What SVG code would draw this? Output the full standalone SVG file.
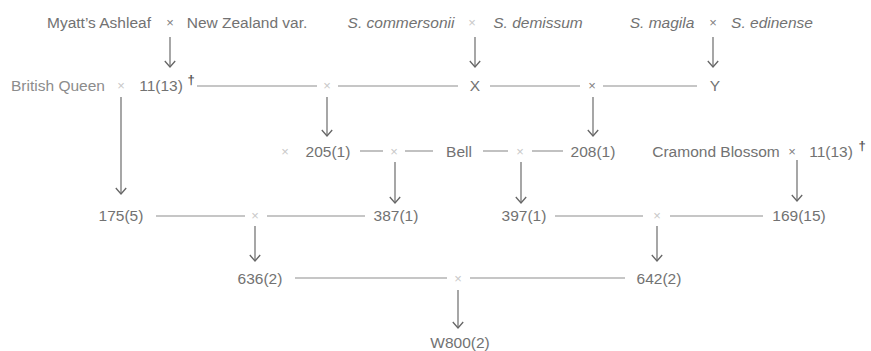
<svg xmlns="http://www.w3.org/2000/svg" width="871" height="351" viewBox="0 0 871 351">
  <defs>
    <style>
      .t { font-family: "Liberation Sans", Arial, sans-serif; font-size: 15.5px; fill: #727272; text-anchor: middle; }
      .i { font-style: italic; }
      .x { font-family: "Liberation Sans", Arial, sans-serif; font-size: 13px; fill: #808080; text-anchor: middle; }
      .fx { fill: #c8c8c8; }
      .dg { font-family: "Liberation Sans", Arial, sans-serif; font-size: 13px; font-weight: bold; fill: #555; text-anchor: middle; }
      .ln { stroke: #8e8e8e; stroke-width: 1.1; fill: none; }
      .ar { stroke: #777; stroke-width: 1.3; fill: none; marker-end: url(#v); }
    </style>
    <!-- open "V" arrowhead, drawn along +x so orient="auto" turns it with the line -->
    <marker id="v" viewBox="0 0 8 12" refX="7" refY="6" markerWidth="8" markerHeight="12" markerUnits="userSpaceOnUse" orient="auto">
      <path d="M1,0.8 L7,6 L1,11.2" fill="none" stroke="#666" stroke-width="1.3"/>
    </marker>
  </defs>
  <rect width="871" height="351" fill="#fff"/>

  <!-- parental crosses -->
  <g id="cross-myatt">
    <text class="t" x="99" y="28">Myatt’s Ashleaf</text>
    <text class="x" x="170" y="27">×</text>
    <text class="t" x="247" y="28">New Zealand var.</text>
  </g>
  <g id="cross-commersonii">
    <text class="t i" x="401" y="28">S. commersonii</text>
    <text class="x fx" x="472" y="27">×</text>
    <text class="t i" x="538" y="28">S. demissum</text>
  </g>
  <g id="cross-magila">
    <text class="t i" x="662" y="28">S. magila</text>
    <text class="x" x="713" y="27">×</text>
    <text class="t i" x="772" y="28">S. edinense</text>
  </g>

  <!-- second generation -->
  <g id="british-queen"><text class="t" x="58" y="91" style="fill:#8c8c8c">British Queen</text></g>
  <g id="cross-bq"><text class="x fx" x="121" y="90">×</text></g>
  <g id="n11-13a"><text class="t" x="161" y="91">11(13)</text><text class="dg" x="191" y="84">†</text></g>
  <g id="cross-11x"><text class="x fx" x="327" y="90">×</text></g>
  <g id="X"><text class="t" x="475" y="91">X</text></g>
  <g id="cross-xy"><text class="x" x="592" y="90">×</text></g>
  <g id="Y"><text class="t" x="715" y="91">Y</text></g>

  <!-- third generation -->
  <g id="cross-205"><text class="x fx" x="285" y="156">×</text></g>
  <g id="n205"><text class="t" x="328" y="157">205(1)</text></g>
  <g id="cross-205bell"><text class="x fx" x="394" y="156">×</text></g>
  <g id="bell"><text class="t" x="459" y="157">Bell</text></g>
  <g id="cross-bell208"><text class="x fx" x="520" y="156">×</text></g>
  <g id="n208"><text class="t" x="593" y="157">208(1)</text></g>
  <g id="cramond">
    <text class="t" x="716" y="157">Cramond Blossom</text>
    <text class="x" x="792" y="156">×</text>
    <text class="t" x="831" y="157">11(13)</text>
    <text class="dg" x="862" y="150">†</text>
  </g>

  <!-- fourth generation -->
  <g id="n175"><text class="t" x="121" y="221">175(5)</text></g>
  <g id="cross-175"><text class="x fx" x="255" y="220">×</text></g>
  <g id="n387"><text class="t" x="396" y="221">387(1)</text></g>
  <g id="n397"><text class="t" x="524" y="221">397(1)</text></g>
  <g id="cross-397"><text class="x fx" x="657" y="220">×</text></g>
  <g id="n169"><text class="t" x="799" y="221">169(15)</text></g>

  <!-- fifth generation -->
  <g id="n636"><text class="t" x="260" y="284">636(2)</text></g>
  <g id="cross-636"><text class="x fx" x="458" y="283">×</text></g>
  <g id="n642"><text class="t" x="659" y="284">642(2)</text></g>
  <g id="w800"><text class="t" x="460" y="348">W800(2)</text></g>

  <g id="connectors">
    <!-- down arrows -->
    <line class="ar" x1="170" y1="37" x2="170" y2="67"/>
    <line class="ar" x1="475" y1="37" x2="475" y2="67"/>
    <line class="ar" x1="713" y1="37" x2="713" y2="67"/>
    <line class="ar" x1="121" y1="97" x2="121" y2="194"/>
    <line class="ar" x1="327" y1="97" x2="327" y2="136"/>
    <line class="ar" x1="593" y1="97" x2="593" y2="136"/>
    <line class="ar" x1="395" y1="162" x2="395" y2="203"/>
    <line class="ar" x1="521" y1="162" x2="521" y2="203"/>
    <line class="ar" x1="797" y1="160" x2="797" y2="201"/>
    <line class="ar" x1="255" y1="226" x2="255" y2="261"/>
    <line class="ar" x1="657" y1="226" x2="657" y2="261"/>
    <line class="ar" x1="458" y1="290" x2="458" y2="328"/>
    <!-- cross lines -->
    <line class="ln" x1="197" y1="86" x2="317" y2="86"/>
    <line class="ln" x1="338" y1="86" x2="458" y2="86"/>
    <line class="ln" x1="490" y1="86" x2="580" y2="86"/>
    <line class="ln" x1="603" y1="86" x2="697" y2="86"/>
    <line class="ln" x1="360" y1="151" x2="383" y2="151"/>
    <line class="ln" x1="405" y1="151" x2="433" y2="151"/>
    <line class="ln" x1="483" y1="151" x2="508" y2="151"/>
    <line class="ln" x1="532" y1="151" x2="563" y2="151"/>
    <line class="ln" x1="156" y1="216" x2="245" y2="216"/>
    <line class="ln" x1="267" y1="216" x2="365" y2="216"/>
    <line class="ln" x1="555" y1="216" x2="643" y2="216"/>
    <line class="ln" x1="670" y1="216" x2="763" y2="216"/>
    <line class="ln" x1="295" y1="278" x2="447" y2="278"/>
    <line class="ln" x1="470" y1="278" x2="625" y2="278"/>
  </g>
</svg>
